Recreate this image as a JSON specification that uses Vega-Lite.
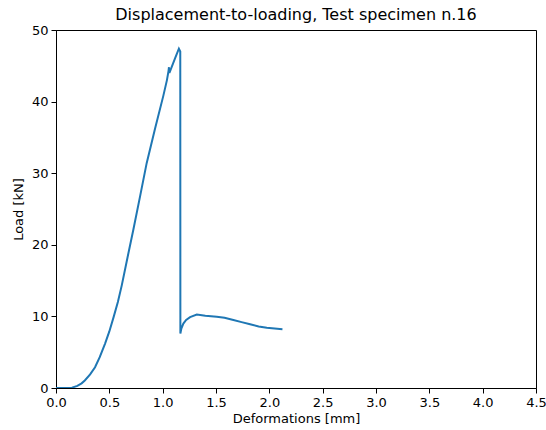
{
  "$schema": "https://vega.github.io/schema/vega-lite/v6.json",
  "width": 480,
  "height": 358,
  "autosize": {"type": "none"},
  "padding": {"left": 56, "top": 30, "right": 10, "bottom": 42},
  "background": "white",
  "config": {
    "font": "DejaVu Sans",
    "view": {"stroke": "black", "strokeWidth": 1},
    "axis": {
      "grid": false,
      "domainColor": "black",
      "tickColor": "black",
      "tickSize": 5,
      "labelFontSize": 13,
      "labelColor": "black",
      "titleFontSize": 13,
      "titleFontWeight": "normal",
      "titleColor": "black",
      "labelFont": "DejaVu Sans",
      "titleFont": "DejaVu Sans",
      "labelFlush": false
    }
  },
  "title": {
    "text": "Displacement-to-loading, Test specimen n.16",
    "fontSize": 16,
    "fontWeight": "normal",
    "font": "DejaVu Sans",
    "color": "black",
    "offset": 1
  },
  "data": {
    "values": [
      {"i": 0, "x": 0.0, "y": 0.0},
      {"i": 1, "x": 0.1, "y": 0.0},
      {"i": 2, "x": 0.15, "y": 0.05},
      {"i": 3, "x": 0.2, "y": 0.3},
      {"i": 4, "x": 0.24, "y": 0.65},
      {"i": 5, "x": 0.27, "y": 1.05},
      {"i": 6, "x": 0.32, "y": 1.9},
      {"i": 7, "x": 0.366, "y": 2.9},
      {"i": 8, "x": 0.41, "y": 4.3},
      {"i": 9, "x": 0.46, "y": 6.2},
      {"i": 10, "x": 0.5, "y": 7.9},
      {"i": 11, "x": 0.54, "y": 9.9},
      {"i": 12, "x": 0.58, "y": 12.0},
      {"i": 13, "x": 0.616, "y": 14.3},
      {"i": 14, "x": 0.67, "y": 18.2},
      {"i": 15, "x": 0.725, "y": 22.1},
      {"i": 16, "x": 0.79, "y": 26.9},
      {"i": 17, "x": 0.85, "y": 31.4},
      {"i": 18, "x": 0.93, "y": 36.3},
      {"i": 19, "x": 1.006, "y": 40.8},
      {"i": 20, "x": 1.04, "y": 43.0},
      {"i": 21, "x": 1.055, "y": 44.3},
      {"i": 22, "x": 1.059, "y": 44.8},
      {"i": 23, "x": 1.063, "y": 44.0},
      {"i": 24, "x": 1.076, "y": 44.5},
      {"i": 25, "x": 1.115, "y": 46.0},
      {"i": 26, "x": 1.152, "y": 47.4},
      {"i": 27, "x": 1.165, "y": 47.0},
      {"i": 28, "x": 1.166, "y": 7.6},
      {"i": 29, "x": 1.175, "y": 8.3},
      {"i": 30, "x": 1.194, "y": 9.0},
      {"i": 31, "x": 1.22, "y": 9.5},
      {"i": 32, "x": 1.257, "y": 9.9},
      {"i": 33, "x": 1.32, "y": 10.25},
      {"i": 34, "x": 1.4, "y": 10.1},
      {"i": 35, "x": 1.507, "y": 9.95},
      {"i": 36, "x": 1.58, "y": 9.8},
      {"i": 37, "x": 1.663, "y": 9.5},
      {"i": 38, "x": 1.74, "y": 9.2},
      {"i": 39, "x": 1.82, "y": 8.9},
      {"i": 40, "x": 1.9, "y": 8.6},
      {"i": 41, "x": 1.976, "y": 8.4},
      {"i": 42, "x": 2.05, "y": 8.3},
      {"i": 43, "x": 2.123, "y": 8.2}
    ]
  },
  "mark": {"type": "line", "color": "#1f77b4", "strokeWidth": 2, "clip": true},
  "encoding": {
    "x": {
      "field": "x",
      "type": "quantitative",
      "title": "Deformations [mm]",
      "scale": {"domain": [0, 4.5], "nice": false, "zero": false},
      "axis": {"values": [0, 0.5, 1, 1.5, 2, 2.5, 3, 3.5, 4, 4.5], "format": ".1f", "titlePadding": 3, "labelPadding": 3}
    },
    "y": {
      "field": "y",
      "type": "quantitative",
      "title": "Load [kN]",
      "scale": {"domain": [0, 50], "nice": false},
      "axis": {"values": [0, 10, 20, 30, 40, 50], "titlePadding": 6, "labelPadding": 3}
    },
    "order": {"field": "i", "type": "quantitative"}
  }
}
